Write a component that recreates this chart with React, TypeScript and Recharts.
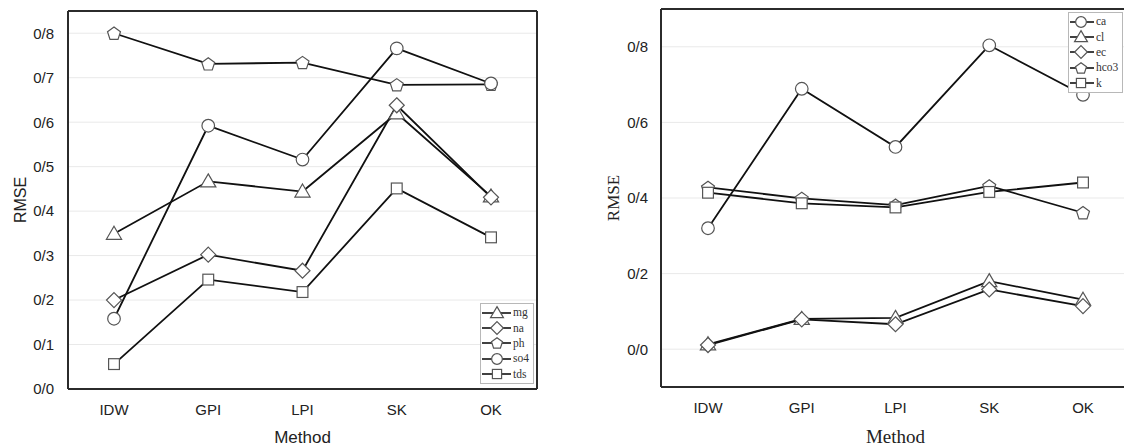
import React from 'react';
import { LineChart, Line, XAxis, YAxis, CartesianGrid, Legend } from 'recharts';

// ---------- data ----------
const methods = ['IDW', 'GPI', 'LPI', 'SK', 'OK'];

// left panel
const mg = [0.349, 0.467, 0.444, 0.62, 0.433];
const na = [0.2, 0.302, 0.266, 0.638, 0.431];
const ph = [0.8, 0.731, 0.734, 0.684, 0.685];
const so4 = [0.158, 0.592, 0.516, 0.766, 0.687];
const tds = [0.056, 0.246, 0.218, 0.451, 0.341];

// right panel
const ca = [0.32, 0.689, 0.535, 0.804, 0.673];
const cl = [0.013, 0.08, 0.083, 0.18, 0.131];
const ec = [0.011, 0.079, 0.066, 0.158, 0.114];
const hco3 = [0.428, 0.399, 0.381, 0.432, 0.361];
const k = [0.414, 0.386, 0.375, 0.416, 0.441];

const leftTicks = [0, 0.1, 0.2, 0.3, 0.4, 0.5, 0.6, 0.7, 0.8];
const rightTicks = [0, 0.2, 0.4, 0.6, 0.8];

const leftSeries = [
  { key: 'mg', values: mg, shape: 'triangle' },
  { key: 'na', values: na, shape: 'diamond' },
  { key: 'ph', values: ph, shape: 'pentagon' },
  { key: 'so4', values: so4, shape: 'circle' },
  { key: 'tds', values: tds, shape: 'square' },
];
const rightSeries = [
  { key: 'ca', values: ca, shape: 'circle' },
  { key: 'cl', values: cl, shape: 'triangle' },
  { key: 'ec', values: ec, shape: 'diamond' },
  { key: 'hco3', values: hco3, shape: 'pentagon' },
  { key: 'k', values: k, shape: 'square' },
];

const buildRows = (series: { key: string; values: number[] }[]) =>
  methods.map((m, i) => {
    const row: Record<string, any> = { method: m };
    series.forEach((s) => (row[s.key] = s.values[i]));
    return row;
  });

const leftData = buildRows(leftSeries);
const rightData = buildRows(rightSeries);

// ---------- styling ----------
const SANS = '"Liberation Sans", Arial, sans-serif';
const SERIF = '"Liberation Serif", "Times New Roman", serif';
const FRAME = { stroke: '#2b2b2b', strokeWidth: 2 };
const LINE_COLOR = '#111';
const MARK_STROKE = '#555';

const fmt = (v: number) => v.toFixed(1).replace('.', '/');

function Marker({ shape, cx, cy, s = 1 }: { shape: string; cx: number; cy: number; s?: number }) {
  const common = { fill: '#fff', stroke: MARK_STROKE, strokeWidth: 1.2 };
  if (cx == null || cy == null) return null;
  switch (shape) {
    case 'circle':
      return <circle cx={cx} cy={cy} r={6.3 * s} {...common} />;
    case 'square': {
      const h = 5.4 * s;
      return <rect x={cx - h} y={cy - h} width={2 * h} height={2 * h} {...common} />;
    }
    case 'diamond': {
      const h = 7.5 * s;
      return <polygon points={`${cx},${cy - h} ${cx + h},${cy} ${cx},${cy + h} ${cx - h},${cy}`} {...common} />;
    }
    case 'triangle': {
      const w = 7.6 * s;
      return (
        <polygon
          points={`${cx},${cy - 7.5 * s} ${cx + w},${cy + 5.5 * s} ${cx - w},${cy + 5.5 * s}`}
          {...common}
        />
      );
    }
    case 'pentagon': {
      const r = 6.8 * s;
      const pts = [0, 1, 2, 3, 4]
        .map((i) => {
          const a = ((-90 + 72 * i) * Math.PI) / 180;
          return `${cx + r * Math.cos(a)},${cy + 0.6 * s + r * Math.sin(a)}`;
        })
        .join(' ');
      return <polygon points={pts} {...common} />;
    }
    default:
      return null;
  }
}

const makeDot = (shape: string) => (props: any) =>
  <Marker key={`${props.dataKey}-${props.index}`} shape={shape} cx={props.cx} cy={props.cy} />;

const makeLegend =
  (series: { key: string; shape: string }[], lineW: number, markX: number) => (props: any) => {
    const payload = props.payload || [];
    return (
      <div
        style={{
          border: '1px solid #b8b8b8',
          background: '#fff',
          padding: '1px 4px 1px 1px',
          lineHeight: 0,
        }}
      >
        {payload.map((entry: any) => {
          const s = series.find((x) => x.key === entry.dataKey);
          return (
            <div key={entry.value} style={{ display: 'flex', alignItems: 'center', height: 15.4 }}>
              <svg width={lineW} height={16} style={{ overflow: 'visible' }}>
                <line x1={0} y1={8} x2={lineW} y2={8} stroke={LINE_COLOR} strokeWidth={1.6} />
                <Marker shape={s ? s.shape : 'circle'} cx={markX} cy={8} s={0.85} />
              </svg>
              <span
                style={{
                  fontFamily: SERIF,
                  fontSize: 11.5,
                  color: '#333',
                  marginLeft: 2,
                  lineHeight: '15px',
                }}
              >
                {entry.value}
              </span>
            </div>
          );
        })}
      </div>
    );
  };

export default function App() {
  return (
    <div
      style={{
        position: 'absolute',
        left: 0,
        top: 0,
        width: 1124,
        height: 448,
        overflow: 'hidden',
        background: '#fff',
      }}
    >
      {/* Left panel */}
      <div style={{ position: 'absolute', left: 0, top: 0 }}>
        <LineChart width={560} height={448} data={leftData} margin={{ top: 10, right: 22, bottom: 0, left: 0 }}>
          <CartesianGrid vertical={false} stroke="#e9e9e9" />
          <XAxis
            dataKey="method"
            interval={0}
            padding={{ left: 46, right: 46 }}
            height={59}
            tickLine={false}
            tickSize={0}
            tickMargin={15}
            axisLine={FRAME}
            tick={{ fontSize: 15, fill: '#222', fontFamily: SANS }}
            label={{ value: 'Method', position: 'insideBottom', offset: 5, fontSize: 17, fill: '#222', fontFamily: SANS }}
          />
          <XAxis
            xAxisId="top"
            dataKey="method"
            orientation="top"
            height={1}
            tick={false}
            tickLine={false}
            axisLine={FRAME}
            padding={{ left: 46, right: 46 }}
          />
          <YAxis
            type="number"
            domain={[0, 0.85]}
            ticks={leftTicks}
            allowDataOverflow
            width={68}
            tickLine={false}
            tickSize={0}
            tickMargin={14}
            tickFormatter={fmt}
            axisLine={FRAME}
            tick={{ fontSize: 15, fill: '#222', fontFamily: SANS }}
            label={{
              value: 'RMSE',
              angle: -90,
              position: 'insideLeft',
              offset: 20,
              fontSize: 16,
              fill: '#222',
              fontFamily: SANS,
              style: { textAnchor: 'middle' },
            }}
          />
          <YAxis
            yAxisId="r"
            orientation="right"
            type="number"
            domain={[0, 0.85]}
            width={1}
            tick={false}
            tickLine={false}
            axisLine={FRAME}
          />
          {leftSeries.map((s) => (
            <Line
              key={s.key}
              dataKey={s.key}
              name={s.key}
              type="linear"
              stroke={LINE_COLOR}
              strokeWidth={1.8}
              dot={makeDot(s.shape)}
              activeDot={false}
              isAnimationActive={false}
            />
          ))}
          <Legend
            layout="vertical"
            align="center"
            verticalAlign="middle"
            wrapperStyle={{ left: 480, top: 303, width: 'auto' }}
            content={makeLegend(leftSeries, 29, 15)}
          />
        </LineChart>
      </div>

      {/* Right panel */}
      <div style={{ position: 'absolute', left: 560, top: 0 }}>
        <LineChart width={576} height={448} data={rightData} margin={{ top: 8, right: 5, bottom: 0, left: 0 }}>
          <CartesianGrid vertical={false} stroke="#e9e9e9" />
          <XAxis
            dataKey="method"
            interval={0}
            padding={{ left: 47, right: 47 }}
            height={61}
            tickLine={false}
            tickSize={0}
            tickMargin={15}
            axisLine={FRAME}
            tick={{ fontSize: 15, fill: '#222', fontFamily: SANS }}
            label={{ value: 'Method', position: 'insideBottom', offset: 5, fontSize: 19, fill: '#222', fontFamily: SERIF }}
          />
          <XAxis
            xAxisId="top"
            dataKey="method"
            orientation="top"
            height={1}
            tick={false}
            tickLine={false}
            axisLine={FRAME}
            padding={{ left: 47, right: 47 }}
          />
          <YAxis
            type="number"
            domain={[-0.1, 0.9]}
            ticks={rightTicks}
            allowDataOverflow
            width={101}
            tickLine={false}
            tickSize={0}
            tickMargin={13}
            tickFormatter={fmt}
            axisLine={FRAME}
            tick={{ fontSize: 15, fill: '#222', fontFamily: SANS }}
            label={{
              value: 'RMSE',
              angle: -90,
              position: 'insideLeft',
              offset: 53,
              fontSize: 17,
              fill: '#222',
              fontFamily: SERIF,
              style: { textAnchor: 'middle' },
            }}
          />
          <YAxis
            yAxisId="r"
            orientation="right"
            type="number"
            domain={[-0.1, 0.9]}
            width={1}
            tick={false}
            tickLine={false}
            axisLine={FRAME}
          />
          {rightSeries.map((s) => (
            <Line
              key={s.key}
              dataKey={s.key}
              name={s.key}
              type="linear"
              stroke={LINE_COLOR}
              strokeWidth={1.8}
              dot={makeDot(s.shape)}
              activeDot={false}
              isAnimationActive={false}
            />
          ))}
          <Legend
            layout="vertical"
            align="center"
            verticalAlign="middle"
            wrapperStyle={{ left: 508, top: 12, width: 'auto' }}
            content={makeLegend(rightSeries, 24, 11)}
          />
        </LineChart>
      </div>
    </div>
  );
}
